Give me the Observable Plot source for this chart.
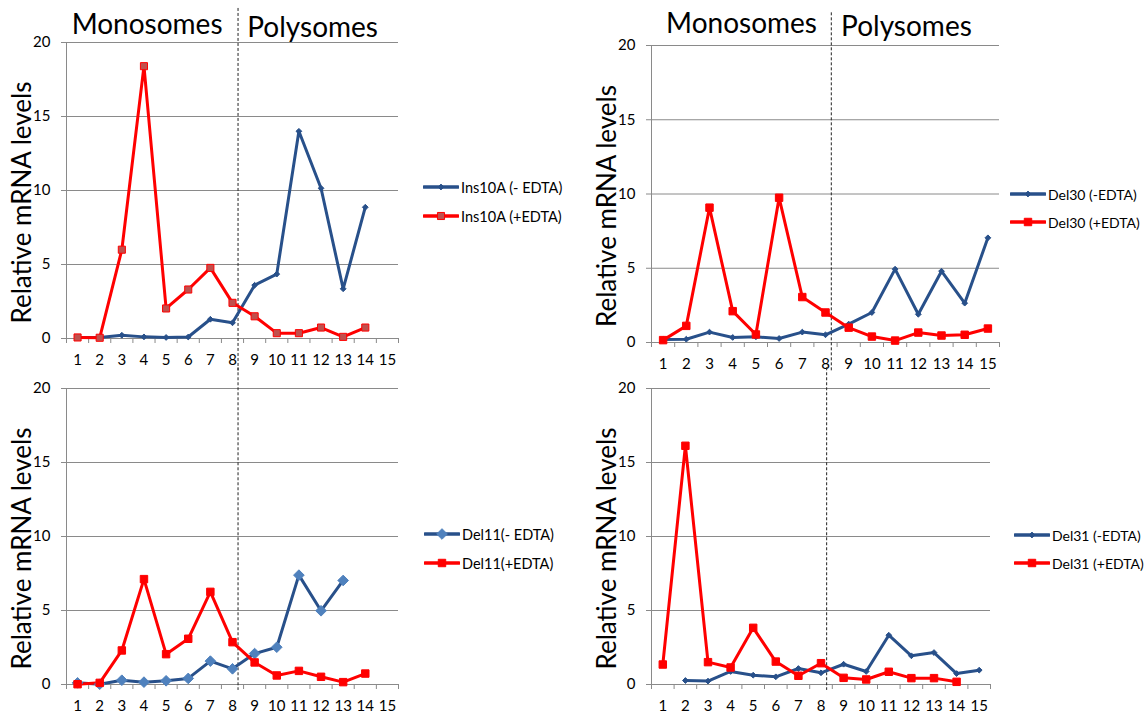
<!DOCTYPE html>
<html>
<head>
<meta charset="utf-8">
<script src="https://cdn.jsdelivr.net/npm/d3@7"></script>
<script src="https://cdn.jsdelivr.net/npm/@observablehq/plot@0.6"></script>
<style>
  body { margin: 0; background: #fff; }
  #chart { position: relative; width: 1146px; height: 713px; font-family: Lato, "Open Sans", sans-serif; overflow: hidden; }
  .panel { position: absolute; }
  .lg-item { position: absolute; display: flex; align-items: center; font-size: 14.5px; white-space: nowrap; color: #000; }
  .lg-item svg { display: block; margin-right: 2px; }
</style>
</head>
<body>
<div id="chart"></div>
<script>
// ---- data ----
const fractions = [1, 2, 3, 4, 5, 6, 7, 8, 9, 10, 11, 12, 13, 14, 15];
const yTicks = [0, 5, 10, 15, 20];
const headerLabels = ["Monosomes", "Polysomes"];
const yLabel = "Relative mRNA levels";

const ins10aMinus = [0.07, 0.07, 0.22, 0.11, 0.07, 0.10, 1.30, 1.06, 3.60, 4.35, 14.0, 10.15, 3.36, 8.87, null];
const ins10aPlus  = [0.07, 0.05, 6.00, 18.4, 2.03, 3.31, 4.77, 2.41, 1.50, 0.36, 0.36, 0.74, 0.11, 0.74, null];
const del30Minus  = [0.20, 0.22, 0.70, 0.34, 0.38, 0.27, 0.70, 0.52, 1.24, 2.02, 4.94, 1.90, 4.80, 2.65, 7.05];
const del30Plus   = [0.16, 1.12, 9.08, 2.11, 0.54, 9.75, 3.06, 2.02, 1.00, 0.40, 0.13, 0.67, 0.47, 0.52, 0.94];
const del11Minus  = [0.11, 0.02, 0.29, 0.16, 0.25, 0.41, 1.58, 1.06, 2.09, 2.52, 7.39, 4.98, 7.03, null, null];
const del11Plus   = [0.02, 0.11, 2.30, 7.12, 2.05, 3.09, 6.26, 2.86, 1.49, 0.61, 0.92, 0.52, 0.16, 0.74, null];
const del31Minus  = [null, 0.27, 0.23, 0.88, 0.63, 0.52, 1.08, 0.79, 1.37, 0.88, 3.33, 1.94, 2.16, 0.74, 0.97];
const del31Plus   = [1.35, 16.13, 1.51, 1.15, 3.83, 1.55, 0.59, 1.44, 0.45, 0.34, 0.86, 0.43, 0.43, 0.18, null];

const seriesNames = {
  tl: ["Ins10A (- EDTA)", "Ins10A (+EDTA)"],
  tr: ["Del30 (-EDTA)", "Del30 (+EDTA)"],
  bl: ["Del11(- EDTA)", "Del11(+EDTA)"],
  br: ["Del31 (-EDTA)", "Del31 (+EDTA)"]
};

// ---- styles ----
const dividerX = 8.25;
const blue = "#28508A";
const lightBlue = "#4F81BD";
const red = "#FF0000";
const darkRedFill = "#C0504D";
const gridColor = "#8A8A8A";

const panels = [
  { key: "tl", left: 0, top: 0, width: 410, height: 370, mt: 42, mb: 32, mr: 12,
    minus: ins10aMinus, plus: ins10aPlus,
    mMark: { r: 2.6, fill: blue, stroke: blue }, pMark: { r: 4, fill: darkRedFill, stroke: red },
    headers: [{ x: 4.14, y: 21.2 }, { x: 11.62, y: 20.95 }],
    div: [22.3, -2.2], legend: { x: 423, y: [187, 216], fs: 14.5 } },
  { key: "tr", left: 585, top: 0, width: 420, height: 370, mt: 45, mb: 28, mr: 6,
    minus: del30Minus, plus: del30Plus,
    mMark: { r: 2.6, fill: blue, stroke: blue }, pMark: { r: 4.2, fill: red, stroke: red },
    headers: [{ x: 4.38, y: 21.42 }, { x: 11.49, y: 21.22 }],
    div: [22.2, -2.0], legend: { x: 1010, y: [194, 222], fs: 14 } },
  { key: "bl", left: 0, top: 370, width: 410, height: 343, mt: 18, mb: 29, mr: 12,
    minus: del11Minus, plus: del11Plus,
    mMark: { r: 4.8, fill: lightBlue, stroke: lightBlue }, pMark: { r: 4.2, fill: red, stroke: red },
    headers: null,
    div: [21.4, -0.4], legend: { x: 424, y: [534, 563], fs: 14.5 } },
  { key: "br", left: 585, top: 370, width: 420, height: 343, mt: 18, mb: 29, mr: 15,
    minus: del31Minus, plus: del31Plus,
    mMark: { r: 2.6, fill: blue, stroke: blue }, pMark: { r: 4.2, fill: red, stroke: red },
    headers: null,
    div: [21.4, -0.4], legend: { x: 1014, y: [535, 563], fs: 14 } }
];

const chart = document.getElementById("chart");
const boundaries = [fractions[0] - 0.5, ...fractions.map(f => f + 0.5)];

function rows(vals) {
  return fractions.map((f, i) => ({ x: f, y: vals[i] })).filter(d => d.y != null);
}

for (const p of panels) {
  const minus = rows(p.minus), plus = rows(p.plus);
  const marks = [
    Plot.gridY(yTicks, { stroke: gridColor, strokeOpacity: 1 }),
    Plot.ruleX([boundaries[0]], { stroke: gridColor }),
    Plot.axisY({ ticks: yTicks, tickSize: 5, tickPadding: 11, stroke: gridColor, fill: "#000", fontSize: 15, label: null }),
    Plot.axisX({ ticks: boundaries, tickSize: 5, tickFormat: () => "", stroke: gridColor, label: null }),
    Plot.axisX({ ticks: fractions, tickSize: 0, tickPadding: 16, fill: "#000", fontSize: 15, label: null }),
    Plot.ruleX([dividerX], { y1: p.div[0], y2: p.div[1], stroke: "#222", strokeDasharray: "3,2", strokeWidth: 1 }),
    Plot.text([yLabel], { frameAnchor: "left", textAnchor: "middle", rotate: -90, dx: -44, dy: 12, fontSize: 26, fill: "#000" }),
    Plot.line(minus, { x: "x", y: "y", stroke: blue, strokeWidth: 3 }),
    Plot.line(plus, { x: "x", y: "y", stroke: red, strokeWidth: 3 }),
    Plot.dot(minus, { x: "x", y: "y", symbol: "diamond2", r: p.mMark.r, fill: p.mMark.fill, stroke: p.mMark.stroke, strokeWidth: 1 }),
    Plot.dot(plus, { x: "x", y: "y", symbol: "square", r: p.pMark.r, fill: p.pMark.fill, stroke: p.pMark.stroke, strokeWidth: 1 })
  ];
  if (p.headers) {
    marks.push(Plot.text(headerLabels, {
      x: (d, i) => p.headers[i].x, y: (d, i) => p.headers[i].y,
      text: d => d, fontSize: 28, fill: "#000", textAnchor: "middle"
    }));
  }
  const svg = Plot.plot({
    width: p.width, height: p.height,
    marginLeft: 66, marginRight: p.mr, marginTop: p.mt, marginBottom: p.mb,
    style: { fontFamily: "Lato, 'Open Sans', sans-serif", background: "transparent", color: "#000", overflow: "visible" },
    x: { domain: [0.5, 15.5], axis: null },
    y: { domain: [0, 20], axis: null },
    marks
  });
  svg.classList.add("panel");
  svg.style.left = p.left + "px";
  svg.style.top = p.top + "px";
  chart.appendChild(svg);

  // legend
  const names = seriesNames[p.key];
  const specs = [
    { name: names[0], color: blue, mark: p.mMark, symbol: "diamond" },
    { name: names[1], color: red, mark: p.pMark, symbol: "square" }
  ];
  specs.forEach((s, i) => {
    const item = document.createElement("div");
    item.className = "lg-item";
    item.style.left = p.legend.x + "px";
    item.style.top = (p.legend.y[i] - 10) + "px";
    item.style.height = "20px";
    item.style.fontSize = p.legend.fs + "px";
    const ns = "http://www.w3.org/2000/svg";
    const sw = document.createElementNS(ns, "svg");
    sw.setAttribute("width", 36); sw.setAttribute("height", 20);
    const ln = document.createElementNS(ns, "line");
    ln.setAttribute("x1", 1); ln.setAttribute("x2", 35); ln.setAttribute("y1", 10); ln.setAttribute("y2", 10);
    ln.setAttribute("stroke", s.color); ln.setAttribute("stroke-width", 3.5); ln.setAttribute("stroke-linecap", "round");
    sw.appendChild(ln);
    const m = document.createElementNS(ns, "path");
    const sym = s.symbol === "diamond" ? d3.symbol(d3.symbolDiamond2, Math.PI * s.mark.r * s.mark.r) : d3.symbol(d3.symbolSquare, Math.PI * s.mark.r * s.mark.r);
    m.setAttribute("d", sym());
    m.setAttribute("transform", "translate(18,10)");
    m.setAttribute("fill", s.mark.fill); m.setAttribute("stroke", s.mark.stroke);
    sw.appendChild(m);
    item.appendChild(sw);
    const t = document.createElement("span");
    t.textContent = s.name;
    item.appendChild(t);
    chart.appendChild(item);
  });
}
</script>
</body>
</html>
